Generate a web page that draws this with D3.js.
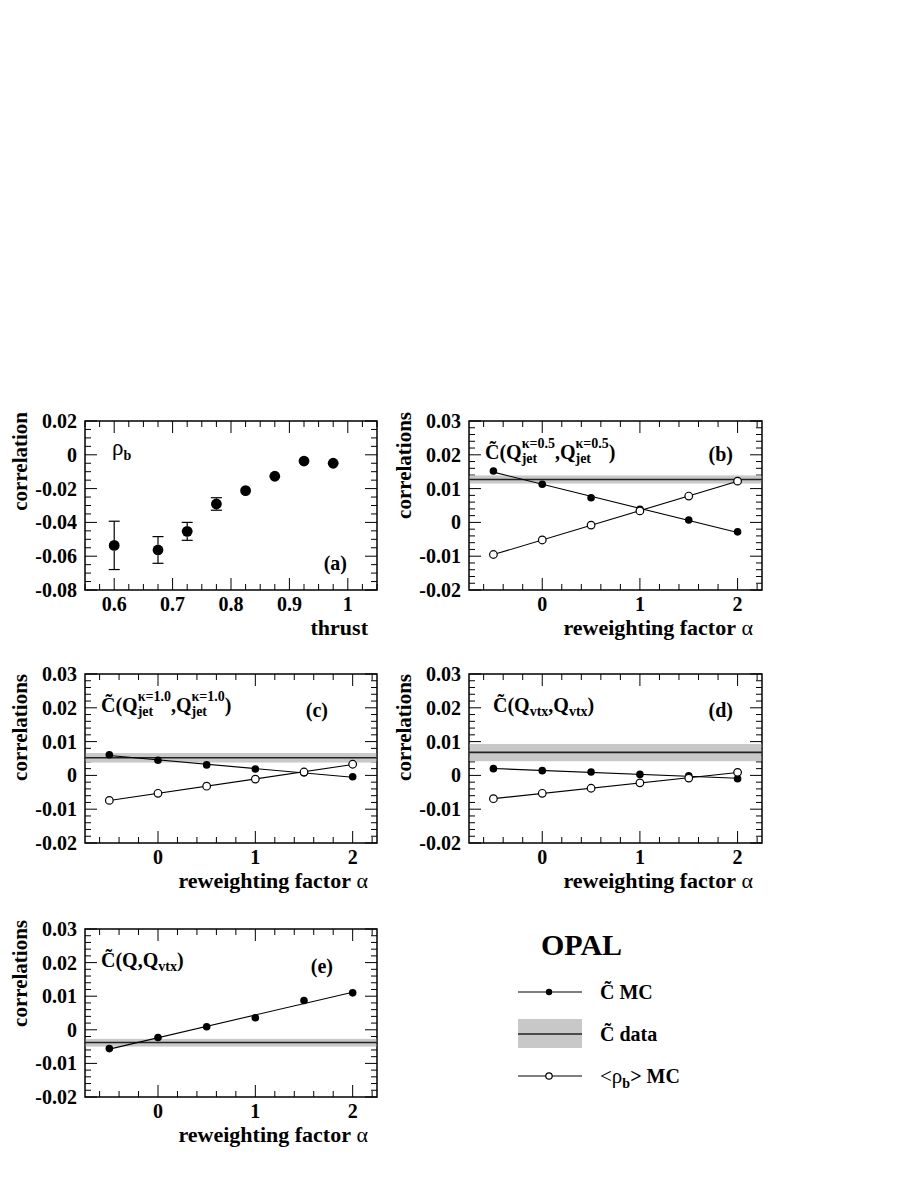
<!DOCTYPE html>
<html>
<head>
<meta charset="utf-8">
<script src="https://cdn.jsdelivr.net/npm/d3@7"></script>
<style>
  body { margin: 0; background: #fff; }
  svg text { fill: #000; }
</style>
</head>
<body>
<div id="chart"></div>
<script>

// ---- data ----
var thrust = [0.6, 0.675, 0.725, 0.775, 0.825, 0.875, 0.925, 0.975];
var rhoB = [-0.0536, -0.0563, -0.0453, -0.0291, -0.0212, -0.0127, -0.0037, -0.005];
var rhoErr = [0.0143, 0.0079, 0.0053, 0.0037, 0.002, 0.002, 0.0015, 0.0015];

var alpha = [-0.5, 0, 0.5, 1, 1.5, 2];

var mcB = [0.0152, 0.0113, 0.0073, 0.0039, 0.0007, -0.0028];
var rhoMcB = [-0.0095, -0.0052, -0.0008, 0.0034, 0.0078, 0.0122];
var dataB = [0.0115, 0.0127, 0.0139];   // low, central, high

var mcC = [0.0061, 0.0045, 0.0031, 0.0019, 0.0008, -0.0004];
var rhoMcC = [-0.0074, -0.0053, -0.0032, -0.0011, 0.001, 0.0033];
var dataC = [0.0038, 0.0052, 0.0066];

var mcD = [0.002, 0.0014, 0.001, 0.0003, -0.0001, -0.001];
var rhoMcD = [-0.0069, -0.0053, -0.0038, -0.0022, -0.0008, 0.0009];
var dataD = [0.0042, 0.0068, 0.0093];

var mcE = [-0.0056, -0.0023, 0.0009, 0.0036, 0.0087, 0.011];
var dataE = [-0.005, -0.0038, -0.0027];

var thrustTicks = [0.6, 0.7, 0.8, 0.9, 1];
var thrustLabels = ["0.6", "0.7", "0.8", "0.9", "1"];
var rhoTicks = [0.02, 0, -0.02, -0.04, -0.06, -0.08];
var rhoLabels = ["0.02", "0", "-0.02", "-0.04", "-0.06", "-0.08"];
var alphaTicks = [0, 1, 2];
var alphaLabels = ["0", "1", "2"];
var corrTicks = [0.03, 0.02, 0.01, 0, -0.01, -0.02];
var corrLabels = ["0.03", "0.02", "0.01", "0", "-0.01", "-0.02"];

var BAND = "#c8c8c8";
var FONT = "'Liberation Serif', 'Times New Roman', Tinos, Times, 'DejaVu Serif', 'Noto Serif', serif";

var svg = d3.select("#chart").append("svg")
    .attr("width", 913)
    .attr("height", 1182)
    .attr("font-family", FONT);

// lays out text pieces (main / sub / sup) one after another
function rich(g, x, y, parts) {
    var cx = x, prevStart = x, prevW = 0;
    parts.forEach(function (p) {
        var sx = p.stack ? prevStart : cx;
        var t = g.append("text")
            .attr("x", sx)
            .attr("y", y + (p.dy || 0))
            .attr("font-family", FONT)
            .style("font-size", p.fs + "px")
            .style("font-weight", p.normal ? "normal" : "bold")
            .text(p.t);
        var w = t.node().getComputedTextLength();
        if (p.stack) {
            cx = prevStart + Math.max(prevW, w);
        } else {
            prevStart = sx; prevW = w; cx = sx + w;
        }
    });
}

function range(a, b, step) {
    var out = [];
    for (var v = a; v <= b + 1e-9; v += step) out.push(+v.toFixed(4));
    return out;
}

function frame(box, xDom, yDom, opt) {
    var x = d3.scaleLinear().domain(xDom).range([box.x0, box.x1]);
    var y = d3.scaleLinear().domain(yDom).range([box.y1, box.y0]);
    var g = svg.append("g").attr("font-family", FONT);

    var major = 12, minor = 6;
    var tk = g.append("g").attr("stroke", "#000").attr("stroke-width", 1);
    opt.xMinor.forEach(function (v) {
        var isMaj = opt.xTicks.some(function (m) { return Math.abs(m - v) < 1e-6; });
        var L = isMaj ? major : minor;
        tk.append("line").attr("x1", x(v)).attr("x2", x(v)).attr("y1", box.y1).attr("y2", box.y1 - L);
        tk.append("line").attr("x1", x(v)).attr("x2", x(v)).attr("y1", box.y0).attr("y2", box.y0 + L);
    });
    opt.yMinor.forEach(function (v) {
        var isMaj = opt.yTicks.some(function (m) { return Math.abs(m - v) < 1e-6; });
        var L = isMaj ? major : minor;
        tk.append("line").attr("y1", y(v)).attr("y2", y(v)).attr("x1", box.x0).attr("x2", box.x0 + L);
        tk.append("line").attr("y1", y(v)).attr("y2", y(v)).attr("x1", box.x1).attr("x2", box.x1 - L);
    });

    g.append("rect")
        .attr("x", box.x0).attr("y", box.y0)
        .attr("width", box.x1 - box.x0).attr("height", box.y1 - box.y0)
        .attr("fill", "none").attr("stroke", "#000").attr("stroke-width", 1.5);

    opt.xTicks.forEach(function (v, i) {
        g.append("text")
            .attr("x", x(v)).attr("y", box.y1 + 21)
            .attr("text-anchor", "middle")
            .style("font-size", "20px").style("font-weight", "bold")
            .text(opt.xLabels[i]);
    });
    opt.yTicks.forEach(function (v, i) {
        g.append("text")
            .attr("x", box.x0 - 8).attr("y", y(v) + 7)
            .attr("text-anchor", "end")
            .style("font-size", "20px").style("font-weight", "bold")
            .text(opt.yLabels[i]);
    });

    // axis titles
    var xt = g.append("text")
        .attr("x", box.x1 - 9).attr("y", box.y1 + 45)
        .attr("text-anchor", "end")
        .style("font-size", "22px").style("font-weight", "bold")
        .text(opt.xTitle);
    if (opt.xGreek) xt.append("tspan").style("font-weight", "normal").text(" " + opt.xGreek);

    g.append("text")
        .attr("transform", "translate(" + (box.x0 - 58) + "," + opt.yTitleEnd + ") rotate(-90)")
        .attr("text-anchor", "end")
        .style("font-size", "21px").style("font-weight", "bold")
        .text(opt.yTitle);

    return { x: x, y: y, g: g };
}

function band(p, box, vals) {
    p.g.append("rect")
        .attr("x", box.x0 + 0.75).attr("width", box.x1 - box.x0 - 1.5)
        .attr("y", p.y(vals[2])).attr("height", p.y(vals[0]) - p.y(vals[2]))
        .attr("fill", BAND);
    p.g.append("line")
        .attr("x1", box.x0).attr("x2", box.x1)
        .attr("y1", p.y(vals[1])).attr("y2", p.y(vals[1]))
        .attr("stroke", "#222").attr("stroke-width", 1.6);
}

// straight line fitted through a series, drawn over the alpha range
function fitLine(p, xs, ys) {
    var mx = d3.mean(xs), my = d3.mean(ys);
    var sxy = d3.sum(xs, function (v, i) { return (v - mx) * (ys[i] - my); });
    var sxx = d3.sum(xs, function (v) { return (v - mx) * (v - mx); });
    var b = sxy / sxx, a = my - b * mx;
    var ends = d3.extent(xs);
    p.g.append("line")
        .attr("x1", p.x(ends[0])).attr("y1", p.y(a + b * ends[0]))
        .attr("x2", p.x(ends[1])).attr("y2", p.y(a + b * ends[1]))
        .attr("stroke", "#000").attr("stroke-width", 1.1);
}

function dots(p, xs, ys, open) {
    p.g.selectAll(null).data(xs).enter().append("circle")
        .attr("cx", function (d) { return p.x(d); })
        .attr("cy", function (d, i) { return p.y(ys[i]); })
        .attr("r", 3.8)
        .attr("fill", open ? "#fff" : "#000")
        .attr("stroke", "#000").attr("stroke-width", open ? 1.2 : 0);
}

function panelLabel(p, x, y, s) {
    p.g.append("text").attr("x", x).attr("y", y)
        .attr("text-anchor", "end")
        .style("font-size", "20px").style("font-weight", "bold")
        .text(s);
}

function cTitle(p, x, y, inner) {
    var parts = [{ t: "C\u0303(", fs: 20 }];
    inner.forEach(function (q, i) {
        parts.push({ t: "Q", fs: 20 });
        parts.push({ t: q.sub, fs: 14, dy: 4 });
        if (q.sup) parts.push({ t: q.sup, fs: 14, dy: -11, stack: true });
        if (i < inner.length - 1) parts.push({ t: ",", fs: 20 });
    });
    parts.push({ t: ")", fs: 20 });
    rich(p.g, x, y, parts);
}

// ---------- (a) ----------
var boxA = { x0: 85, x1: 377, y0: 421, y1: 590 };
var pA = frame(boxA, [0.55, 1.05], [-0.08, 0.02], {
    xTicks: thrustTicks, xLabels: thrustLabels, xMinor: range(0.55, 1.05, 0.025),
    yTicks: rhoTicks, yLabels: rhoLabels, yMinor: range(-0.08, 0.02, 0.005),
    xTitle: "thrust", yTitle: "correlation", yTitleEnd: 412
});
var rA = 5.4;
thrust.forEach(function (t, i) {
    var cx = pA.x(t), cy = pA.y(rhoB[i]);
    var top = pA.y(rhoB[i] + rhoErr[i]), bot = pA.y(rhoB[i] - rhoErr[i]);
    if (cy - top > rA) {
        pA.g.append("line").attr("x1", cx).attr("x2", cx).attr("y1", top).attr("y2", cy - rA)
            .attr("stroke", "#000").attr("stroke-width", 1.2);
        pA.g.append("line").attr("x1", cx).attr("x2", cx).attr("y1", bot).attr("y2", cy + rA)
            .attr("stroke", "#000").attr("stroke-width", 1.2);
        [top, bot].forEach(function (yy) {
            pA.g.append("line").attr("x1", cx - 5.5).attr("x2", cx + 5.5).attr("y1", yy).attr("y2", yy)
                .attr("stroke", "#000").attr("stroke-width", 1.2);
        });
    }
    pA.g.append("circle").attr("cx", cx).attr("cy", cy).attr("r", rA).attr("fill", "#000");
});
rich(pA.g, 112, 455, [{ t: "\u03c1", fs: 23, normal: true }, { t: "b", fs: 14, dy: 5 }]);
panelLabel(pA, 347, 570, "(a)");

// ---------- (b)-(e) ----------
var alphaOpt = function (end) {
    return {
        xTicks: alphaTicks, xLabels: alphaLabels, xMinor: range(-0.6, 2.2, 0.2),
        yTicks: corrTicks, yLabels: corrLabels, yMinor: range(-0.02, 0.03, 0.002),
        xTitle: "reweighting factor", xGreek: "\u03b1", yTitle: "correlations", yTitleEnd: end
    };
};

var boxB = { x0: 469, x1: 762, y0: 421, y1: 590 };
var pB = frame(boxB, [-0.75, 2.25], [-0.02, 0.03], alphaOpt(412));
band(pB, boxB, dataB);
fitLine(pB, alpha, mcB);
fitLine(pB, alpha, rhoMcB);
dots(pB, alpha, mcB, false);
dots(pB, alpha, rhoMcB, true);
cTitle(pB, 485, 459, [{ sub: "jet", sup: "\u03ba=0.5" }, { sub: "jet", sup: "\u03ba=0.5" }]);
panelLabel(pB, 733, 461, "(b)");

var boxC = { x0: 85, x1: 377, y0: 674, y1: 843 };
var pC = frame(boxC, [-0.75, 2.25], [-0.02, 0.03], alphaOpt(674));
band(pC, boxC, dataC);
fitLine(pC, alpha, mcC);
fitLine(pC, alpha, rhoMcC);
dots(pC, alpha, mcC, false);
dots(pC, alpha, rhoMcC, true);
cTitle(pC, 101, 712, [{ sub: "jet", sup: "\u03ba=1.0" }, { sub: "jet", sup: "\u03ba=1.0" }]);
panelLabel(pC, 328, 717, "(c)");

var boxD = { x0: 469, x1: 762, y0: 674, y1: 843 };
var pD = frame(boxD, [-0.75, 2.25], [-0.02, 0.03], alphaOpt(674));
band(pD, boxD, dataD);
fitLine(pD, alpha, mcD);
fitLine(pD, alpha, rhoMcD);
dots(pD, alpha, mcD, false);
dots(pD, alpha, rhoMcD, true);
cTitle(pD, 493, 712, [{ sub: "vtx" }, { sub: "vtx" }]);
panelLabel(pD, 733, 717, "(d)");

var boxE = { x0: 85, x1: 377, y0: 929, y1: 1097 };
var pE = frame(boxE, [-0.75, 2.25], [-0.02, 0.03], alphaOpt(920));
band(pE, boxE, dataE);
fitLine(pE, alpha, mcE);
dots(pE, alpha, mcE, false);
cTitle(pE, 101, 967, [{ sub: "" }, { sub: "vtx" }]);
panelLabel(pE, 333, 973, "(e)");

// ---------- legend ----------
var leg = svg.append("g").attr("font-family", FONT);
leg.append("text").attr("x", 541).attr("y", 955)
    .style("font-size", "30px").style("font-weight", "bold").text("OPAL");

leg.append("line").attr("x1", 518).attr("x2", 582).attr("y1", 992).attr("y2", 992)
    .attr("stroke", "#000").attr("stroke-width", 1.1);
leg.append("circle").attr("cx", 549).attr("cy", 992).attr("r", 3.2).attr("fill", "#000");
rich(leg, 600, 999, [{ t: "C\u0303 MC", fs: 20 }]);

leg.append("rect").attr("x", 518).attr("y", 1019).attr("width", 64).attr("height", 29).attr("fill", BAND);
leg.append("line").attr("x1", 518).attr("x2", 582).attr("y1", 1034).attr("y2", 1034)
    .attr("stroke", "#222").attr("stroke-width", 1.6);
rich(leg, 600, 1041, [{ t: "C\u0303 data", fs: 20 }]);

leg.append("line").attr("x1", 518).attr("x2", 582).attr("y1", 1076).attr("y2", 1076)
    .attr("stroke", "#000").attr("stroke-width", 1.1);
leg.append("circle").attr("cx", 549).attr("cy", 1076).attr("r", 3.2)
    .attr("fill", "#fff").attr("stroke", "#000").attr("stroke-width", 1.2);
rich(leg, 600, 1083, [
    { t: "<\u03c1", fs: 21, normal: true },
    { t: "b", fs: 14, dy: 5 },
    { t: "> MC", fs: 20 }
]);

</script>
</body>
</html>
